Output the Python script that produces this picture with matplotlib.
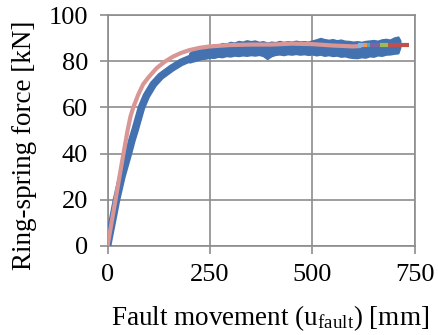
import matplotlib
matplotlib.use("Agg")
import matplotlib.pyplot as plt

plt.rcParams["font.family"] = ["Liberation Serif", "DejaVu Serif"]
plt.rcParams["mathtext.fontset"] = "custom"
plt.rcParams["mathtext.rm"] = "Liberation Serif"
plt.rcParams["mathtext.it"] = "Liberation Serif:italic"

# Measured ring-spring force: loading branch (trace)
test_x = [0, 10, 22, 35, 51, 60, 67, 75, 83, 95, 112, 130, 157, 180, 200, 215]
test_y = [0, 9, 20, 30, 40, 46, 50, 55, 60, 65, 70, 73.5, 77, 79.5, 81, 82.0]

# Measured ring-spring force: plateau scatter band (min / max per 10 mm)
band_x = [200, 210, 220, 230, 240, 250, 260, 270, 280, 290, 300, 310, 320,
          330, 340, 350, 360, 370, 380, 390, 400, 410, 420, 430, 440, 450,
          460, 470, 480, 490, 500, 510, 520, 530, 540, 550, 560, 570, 580,
          590, 600, 610, 620, 630, 640, 650, 660, 670, 680, 690, 700, 710, 715]
band_hi = [83.5, 84.8, 85.3, 85.9, 86.2, 86.6, 87.2, 87.0, 87.8, 87.6, 88.3,
           88.0, 88.7, 88.4, 89.0, 88.6, 88.9, 88.3, 88.6, 88.0, 88.4, 88.2,
           88.7, 88.3, 88.6, 88.4, 88.8, 88.5, 88.6, 88.4, 88.9, 89.4, 90.0,
           89.5, 89.2, 89.5, 89.0, 89.3, 88.8, 88.7, 88.4, 88.6, 88.3, 88.7,
           88.9, 89.1, 88.8, 89.4, 89.6, 89.3, 90.2, 90.6, 89.0]
band_lo = [79.5, 80.0, 80.5, 81.0, 81.2, 81.6, 81.5, 82.0, 81.8, 82.3, 82.1,
           82.5, 82.3, 82.6, 82.4, 82.7, 82.5, 82.8, 82.3, 81.0, 82.2, 82.8,
           83.0, 82.7, 83.1, 82.9, 83.2, 82.9, 83.1, 82.8, 83.0, 82.6, 82.9,
           82.4, 82.7, 82.3, 82.5, 82.0, 82.2, 81.7, 81.5, 81.4, 81.8, 81.6,
           82.2, 82.0, 82.6, 82.4, 82.9, 83.0, 83.3, 83.5, 86.0]

# Model response
model_x = [0, 20, 35, 49, 56, 63, 75, 87, 100, 120, 140, 160, 180, 200, 225,
           250, 300, 350, 400, 450, 500, 550, 600, 620]
model_y = [0, 20.5, 36, 50, 56, 60, 65.5, 70, 73, 77, 79.8, 82, 83.6, 84.8,
           85.8, 86.4, 87.0, 87.2, 87.2, 87.6, 87.4, 86.8, 86.4, 86.6]

# Model continuation stages
stage_x = [[613, 625], [625, 633], [633, 641], [641, 666], [666, 686], [686, 737]]
stage_y = [[87.0, 87.0], [87.0, 87.0], [87.0, 87.0], [87.0, 87.0], [87.0, 87.0], [87.0, 87.0]]
stage_colors = ["#95B3D7", "#F79646", "#4BACC6", "#8064A2", "#9BBB59", "#C0504D"]

x_ticks = [0, 250, 500, 750]
y_ticks = [0, 20, 40, 60, 80, 100]

fig = plt.figure(figsize=(4.39, 3.35), dpi=100)
ax = fig.add_axes([0.2449, 0.2657, 0.6993, 0.6895])

blue = "#4472B0"
ax.plot(test_x, test_y, color=blue, lw=5.5, solid_joinstyle="miter", zorder=3)
ax.fill_between(band_x, band_lo, band_hi, color=blue, lw=1.2, edgecolor=blue, zorder=3)
ax.plot(model_x, model_y, color="#D99694", lw=3, solid_capstyle="butt", zorder=4)
for sx, sy, c in zip(stage_x, stage_y, stage_colors):
    ax.plot(sx, sy, color=c, lw=3, solid_capstyle="butt", zorder=5)

ax.set_xlim(0, 750)
ax.set_ylim(0, 100)
ax.set_xticks(x_ticks)
ax.set_yticks(y_ticks)
ax.grid(True, color="#8C8C8C", lw=1.2)
ax.set_axisbelow(True)
for s in ax.spines.values():
    s.set_color("#8C8C8C")
    s.set_linewidth(1.2)
ax.tick_params(axis="both", colors="#8C8C8C", length=6, width=1.2,
               labelsize=19, labelcolor="black")
ax.tick_params(axis="y", pad=8)
ax.tick_params(axis="x", pad=7)

fig.text(0.616, 0.03, r"Fault movement (u$_{\mathrm{fault}}$) [mm]",
         ha="center", va="baseline", fontsize=19.5)
fig.text(0.055, 0.565, "Ring-spring force [kN]", rotation=90,
         ha="center", va="center", fontsize=19.5)

fig.savefig("out.png", dpi=100)
